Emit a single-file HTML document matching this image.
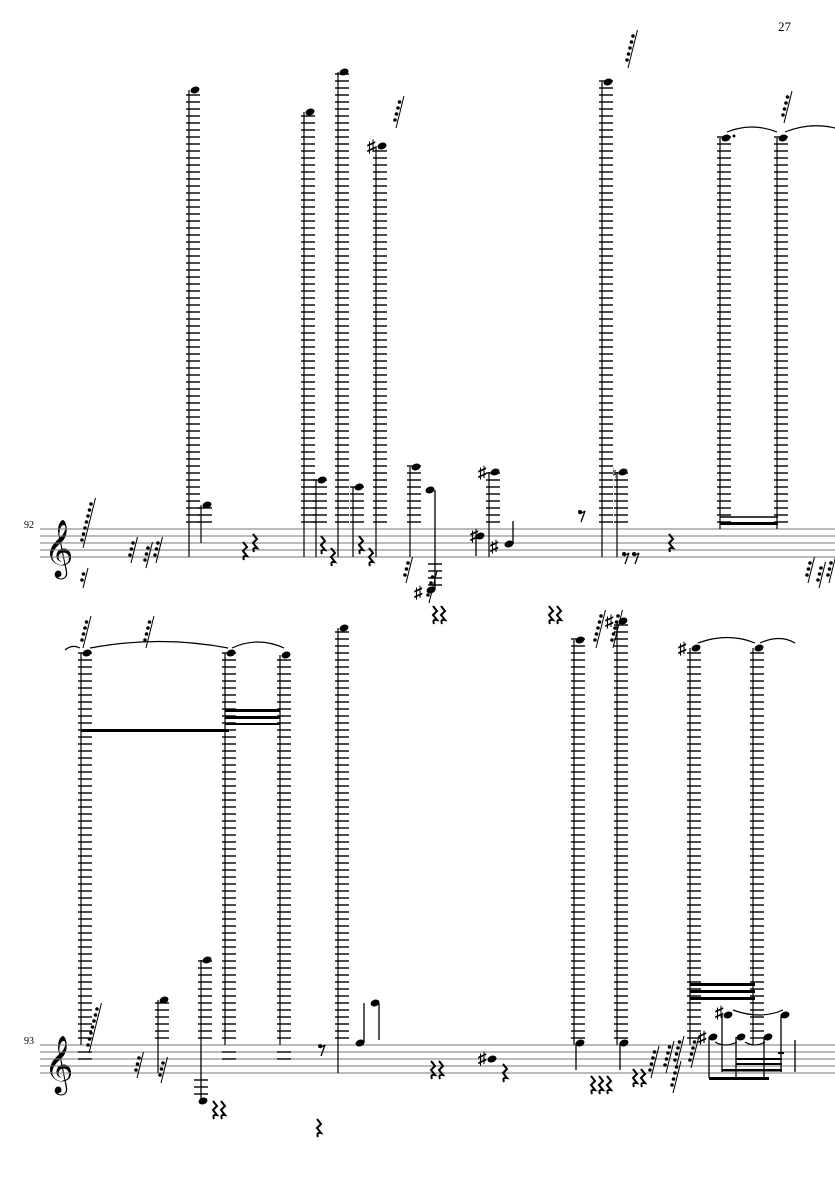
<!DOCTYPE html>
<html><head><meta charset="utf-8"><style>
html,body{margin:0;padding:0;background:#fff;}
svg{display:block}
text{font-family:"Liberation Serif",serif;}
</style></head><body>
<svg id="s" width="835" height="1181" xmlns="http://www.w3.org/2000/svg">
<text x="778" y="31" font-size="13">27</text>
<text x="24" y="528" font-size="10">92</text>
<text x="24" y="1044" font-size="10">93</text>
<text x="44" y="565" font-size="50" font-family="DejaVu Sans, sans-serif">𝄞</text>
<text x="44" y="1081" font-size="50" font-family="DejaVu Sans, sans-serif">𝄞</text>
</svg>
<script>
const s=document.getElementById('s');let h='';
function L(x1,y1,x2,y2,w,c){h+=`<line x1="${x1}" y1="${y1}" x2="${x2}" y2="${y2}" stroke="${c||'#000'}" stroke-width="${w||1.3}"/>`;}
function staff(y){for(let i=0;i<5;i++)L(40,y+i*7,835,y+i*7,1,'#777');}
staff(529);staff(1045);
function head(x,y){h+=`<ellipse cx="${x}" cy="${y}" rx="4.6" ry="3.3" transform="rotate(-20 ${x} ${y})"/>`;}
function col(x,top,st,sy){for(let y=st-7;y>top-2;y-=7)L(x-7,y,x+7,y,1.4);head(x+2,top);L(x-4,top,x-4,sy,1.2);}
function acc(x,y){h+=`<text x="${x}" y="${y+6}" font-size="17" font-weight="bold">♯</text>`;}
function rest(x,y){h+=`<path d="M${x+1} ${y-14} L${x+5} ${y-9} L${x+1} ${y-5} L${x+5} ${y} Q${x} ${y-1} ${x+2} ${y+4}" fill="none" stroke="#000" stroke-width="2"/>`;}
function rests(x,y,n){for(let i=0;i<n;i++)rest(x+i*8,y);}
function erest(x,y){h+=`<circle cx="${x+2}" cy="${y-6}" r="2"/>`;L(x+2,y-4,x+7,y-7,1.3);L(x+7,y-7,x+3,y+4,1.3);}
function flag(x,y,n){for(let i=0;i<n;i++){h+=`<circle cx="${x+i*1.5}" cy="${y-i*6}" r="1.8"/>`;}L(x+1,y+8,x+n*1.5+3,y-n*6,1);}
col(193,90,529,557);col(205,505,529,543);
col(308,112,529,557);col(320,480,529,557);
col(342,72,529,557);col(357,487,529,557);
col(380,146,529,557);acc(367,146);
col(414,467,529,557);
head(430,490);L(435,490,435,590);for(let y=564;y<590;y+=7)L(428,y,442,y,1.4);head(431,590);acc(414,592);
col(493,472,529,557);acc(478,472);head(509,544);L(513,544,513,521);acc(490,546);head(480,536);L(476,536,476,556);acc(470,535);
col(606,82,529,557);col(621,472,529,557);h+=`<text x="612" y="478" font-size="14">♮</text>`;
col(724,138,529,529);col(781,138,529,529);h+=`<rect x="720" y="522" width="58" height="3"/>`;L(720,517,778,517,1.5);
h+=`<circle cx="734" cy="136" r="1.5"/>`;
h+=`<path d="M727 132 Q752 122 777 132" fill="none" stroke="#000" stroke-width="1.2"/><path d="M785 132 Q810 122 835 128" fill="none" stroke="#000" stroke-width="1.2"/>`;
[[82,540,7],[82,580,2],[130,555,3],[145,560,3],[155,555,3],[405,575,3],[428,595,4],[627,60,5],[783,115,4],[807,575,3],[818,580,3],[828,575,3],[395,120,4]].forEach(a=>flag(...a));
[[242,556],[252,548],[320,550],[330,562],[358,550],[368,562],[668,548]].forEach(a=>rest(...a));
rests(432,620,2);rests(548,620,2);
erest(578,518);erest(622,560);erest(632,560);
// staff2
col(85,653,1045,1045);col(229,653,1045,1045);col(284,655,1045,1045);
for(let y=1052;y<1062;y+=7){[85,229,284].forEach(x=>L(x-7,y,x+7,y,1.4));}
h+=`<rect x="81" y="729" width="148" height="3"/><rect x="225" y="709" width="55" height="3"/><rect x="225" y="716" width="55" height="3"/><rect x="225" y="723" width="55" height="2"/>`;
h+=`<path d="M90 648 Q160 635 228 648" fill="none" stroke="#000" stroke-width="1.2"/><path d="M232 648 Q258 636 284 648" fill="none" stroke="#000" stroke-width="1.2"/><path d="M65 650 Q72 644 80 648" fill="none" stroke="#000" stroke-width="1.2"/>`;
flag(82,640,4);flag(145,640,4);
col(342,628,1045,1073);col(162,1000,1045,1073);
col(205,960,1045,1045);L(201,1045,201,1100);for(let y=1080;y<1100;y+=7)L(194,y,208,y,1.4);head(203,1101);
col(578,640,1045,1045);col(621,621,1045,1045);acc(605,621);
col(694,648,1045,1045);col(757,648,1045,1045);acc(678,648);
h+=`<rect x="690" y="983" width="65" height="3"/><rect x="690" y="990" width="65" height="3"/><rect x="690" y="997" width="65" height="3"/>`;
h+=`<path d="M698 643 Q728 632 755 643" fill="none" stroke="#000" stroke-width="1.2"/><path d="M760 643 Q780 634 795 643" fill="none" stroke="#000" stroke-width="1.2"/>`;
head(580,1043);L(576,1043,576,1070);head(624,1043);L(620,1043,620,1070);
head(360,1043);L(364,1043,364,1003);head(375,1003);L(379,1003,379,1040);
head(492,1059);acc(478,1058);
head(713,1037);acc(698,1037);head(728,1015);acc(715,1012);head(741,1037);head(768,1037);head(785,1015);
L(709,1037,709,1078);L(722,1015,722,1072);L(736,1037,736,1078);L(764,1037,764,1078);L(781,1015,781,1072);L(795,1040,795,1072);
h+=`<rect x="709" y="1077" width="60" height="3"/><rect x="722" y="1069" width="60" height="2.5"/><rect x="736" y="1063" width="46" height="2"/><rect x="736" y="1058" width="46" height="2"/><rect x="778" y="1052" width="6" height="2"/>`;
h+=`<path d="M733 1010 Q760 1020 783 1010" fill="none" stroke="#000" stroke-width="1.2"/><path d="M715 1042 Q725 1048 737 1042" fill="none" stroke="#000" stroke-width="1.2"/><path d="M745 1042 Q755 1048 765 1042" fill="none" stroke="#000" stroke-width="1.2"/>`;
[[88,1045,7],[136,1070,3],[160,1075,3],[650,1070,4],[665,1065,4],[675,1060,4],[672,1085,4],[690,1060,4],[595,640,5],[612,640,5]].forEach(a=>flag(...a));
erest(318,1052);rests(430,1075,2);rests(502,1078,1);rests(590,1090,3);rests(632,1083,2);rests(212,1115,2);rests(316,1133,1);
s.insertAdjacentHTML('beforeend',h);
</script>
</body></html>
